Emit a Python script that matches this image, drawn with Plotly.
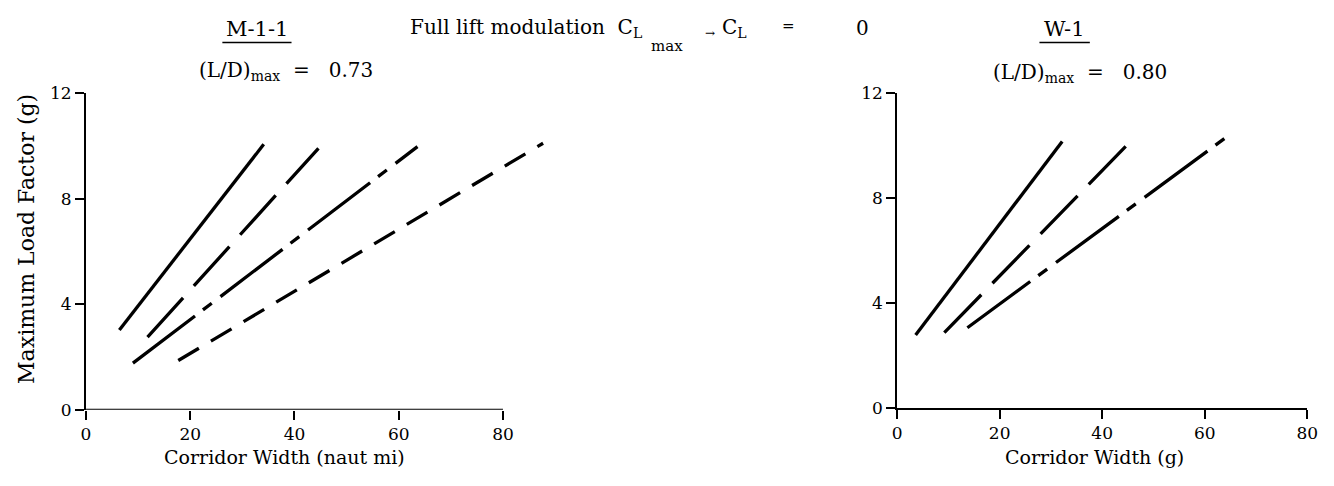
import plotly.graph_objects as go

# ---------------- data ----------------
# Left panel: M-1-1, (L/D)max = 0.73  (x = corridor width, naut mi ; y = max load factor, g)
m11_solid_x = [6.4, 34.1]
m11_solid_y = [3.03, 10.07]
m11_longdash_x = [11.8, 44.6]
m11_longdash_y = [2.76, 9.92]
m11_dashdot_x = [9.0, 63.6]
m11_dashdot_y = [1.77, 9.98]
m11_dash_x = [17.7, 87.7]
m11_dash_y = [1.87, 10.11]

# Right panel: W-1, (L/D)max = 0.80
w1_solid_x = [3.6, 32.2]
w1_solid_y = [2.78, 10.17]
w1_longdash_x = [9.2, 45.2]
w1_longdash_y = [2.87, 10.10]
w1_dashdot_x = [13.7, 64.3]
w1_dashdot_y = [3.06, 10.34]

x_ticks = [0, 20, 40, 60, 80]
y_ticks = [0, 4, 8, 12]

FONT = "DejaVu Serif"
W, H = 1334, 486

def px(x):
    return x / W

def py(y):
    return 1 - y / H

LONGDASH = "53px,16px"
DASHDOT = "78px,10px,11px,11px"
DASH = "24px,14px"
LW = 3.3

fig = go.Figure()

def add(x, y, dash, xa, ya):
    fig.add_trace(go.Scatter(x=x, y=y, mode="lines", xaxis=xa, yaxis=ya,
                             line=dict(color="black", width=LW, dash=dash),
                             showlegend=False, hoverinfo="skip"))

add(m11_solid_x, m11_solid_y, "solid", "x", "y")
add(m11_longdash_x, m11_longdash_y, LONGDASH, "x", "y")
add(m11_dashdot_x, m11_dashdot_y, DASHDOT, "x", "y")
add(m11_dash_x, m11_dash_y, DASH, "x", "y")

add(w1_solid_x, w1_solid_y, "solid", "x2", "y2")
add(w1_longdash_x, w1_longdash_y, LONGDASH, "x2", "y2")
add(w1_dashdot_x, w1_dashdot_y, DASHDOT, "x2", "y2")

# axis geometry in pixels
lx0, lx80 = 82, 504
lscale = (lx80 - lx0) / 80
lx90 = lx0 + 90 * lscale
ly0, ly12 = 417, 87
rx0, rx80 = 903, 1318
ry0, ry12 = 415, 87

axis_common = dict(showgrid=False, zeroline=False, ticks="outside", ticklen=9,
                   tickwidth=2, tickcolor="black", linecolor="black", linewidth=2,
                   ticklabelstandoff=0,
                   tickfont=dict(family=FONT, size=17, color="black"))

fig.update_layout(
    width=W, height=H,
    margin=dict(l=0, r=0, t=0, b=0),
    paper_bgcolor="white", plot_bgcolor="white",
    xaxis=dict(domain=[px(lx0), px(lx90)], range=[0, 90], tickvals=x_ticks,
               showline=False, anchor="y", **axis_common),
    yaxis=dict(domain=[py(ly0), py(ly12)], range=[0, 12], tickvals=y_ticks,
               showline=True, anchor="x", **axis_common),
    xaxis2=dict(domain=[px(rx0), px(rx80)], range=[0, 80], tickvals=x_ticks,
                showline=True, anchor="y2", **axis_common),
    yaxis2=dict(domain=[py(ry0), py(ry12)], range=[0, 12], tickvals=y_ticks,
                showline=True, anchor="x2", **axis_common),
)

# left x-axis line only spans 0..80
fig.add_shape(type="line", xref="x", yref="y", x0=0, x1=80, y0=0, y1=0,
              line=dict(color="black", width=2))

def ann(text, x, y, xanchor="center", size=17, angle=0):
    fig.add_annotation(text=text, x=px(x), y=py(y), xref="paper", yref="paper",
                       xanchor=xanchor, yanchor="middle", showarrow=False,
                       textangle=angle, font=dict(family=FONT, size=size, color="black"))

# headers
ann("M-1-1", 255, 20, size=21)
fig.add_shape(type="line", xref="paper", yref="paper", x0=px(220), x1=px(290),
              y0=py(34), y1=py(34), line=dict(color="black", width=1.5))
ann("(L/D)<sub>max</sub>  =   0.73", 284, 64, size=20)

ann("W-1", 1072, 20, size=21)
fig.add_shape(type="line", xref="paper", yref="paper", x0=px(1047), x1=px(1098),
              y0=py(34), y1=py(34), line=dict(color="black", width=1.5))
ann("(L/D)<sub>max</sub>  =   0.80", 1088, 66, size=20)

ann("Full lift modulation  C<sub>L</sub>", 408, 19, xanchor="left", size=20)
ann("max", 652, 38, xanchor="left", size=15)
ann("→", 714, 24, xanchor="center", size=12)
ann("C<sub>L</sub>", 724, 19, xanchor="left", size=20)
ann("=", 793, 17, xanchor="center", size=15)
ann("0", 868, 19, xanchor="center", size=20)

# axis titles
ann("Maximum Load Factor (g)", 21, 239, angle=-90, size=22)
ann("Corridor Width (naut mi)", 283, 466, size=19)
ann("Corridor Width (g)", 1103, 466, size=19)

fig.write_html("out.html", config={"displayModeBar": False},
               post_script="document.body.style.margin='0';")
